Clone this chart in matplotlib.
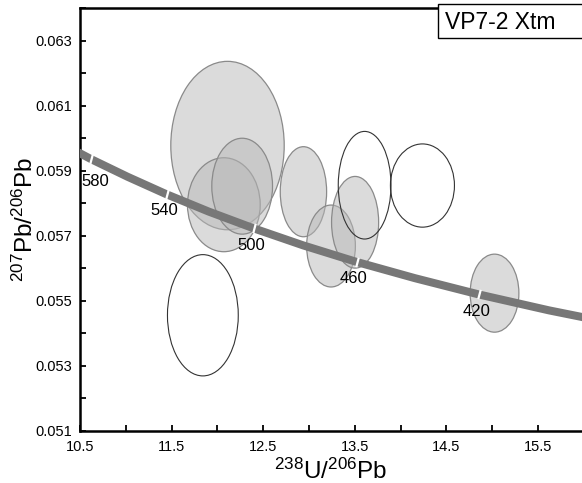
import matplotlib.pyplot as plt
from matplotlib.patches import Ellipse, Rectangle
from matplotlib.ticker import MultipleLocator
import numpy as np

plt.rcParams['font.family'] = ['Liberation Sans', 'DejaVu Sans']
plt.rcParams['mathtext.fontset'] = 'custom'
plt.rcParams['mathtext.rm'] = 'Liberation Sans'

# concordia points (Ma, 238U/206Pb, 207Pb/206Pb)
conc_age = [620, 600, 580, 560, 540, 520, 500, 480, 460, 440, 420, 400, 380]
conc_x = [9.905, 10.252, 10.622, 11.019, 11.445, 11.904, 12.399, 12.936,
          13.520, 14.157, 14.854, 15.621, 16.469]
conc_y = [0.06046, 0.05990, 0.05935, 0.05881, 0.05827, 0.05774, 0.05722,
          0.05670, 0.05619, 0.05569, 0.05519, 0.05470, 0.05422]
label_ages = [580, 540, 500, 460, 420]

# error ellipses: centre, full width, full height, filled or open
ell_x = [12.110, 12.070, 12.270, 12.939, 13.240, 13.503, 15.025, 11.841, 13.607, 14.238]
ell_y = [0.05977, 0.05795, 0.05852, 0.05835, 0.05668, 0.05741, 0.05523, 0.05455, 0.05855, 0.05854]
ell_w = [1.238, 0.794, 0.663, 0.506, 0.532, 0.514, 0.532, 0.773, 0.576, 0.699]
ell_h = [0.00518, 0.00289, 0.00295, 0.00277, 0.00252, 0.00282, 0.00240, 0.00373, 0.00331, 0.00256]
ell_fill = [True, True, True, True, True, True, True, False, False, False]

fig = plt.figure(figsize=(5.82, 4.83), dpi=100)
ax = fig.add_axes([0.1375, 0.1083, 0.8625, 0.8751])

for x, y, w, h, f in zip(ell_x, ell_y, ell_w, ell_h, ell_fill):
    if f:
        e = Ellipse((x, y), w, h, facecolor=(0.72, 0.72, 0.72, 0.5),
                    edgecolor='#8a8a8a', lw=0.9, zorder=2)
    else:
        e = Ellipse((x, y), w, h, facecolor='none', edgecolor='#333333', lw=0.8, zorder=2)
    ax.add_patch(e)

# concordia
ax.plot(conc_x, conc_y, color='#777777', lw=5.8, solid_capstyle='butt', zorder=3)
for a, x, y in zip(conc_age, conc_x, conc_y):
    if a in label_ages:
        ax.plot(x, y, marker=(2, 0, -15), ms=7, mew=1.6, color='white', zorder=4)
        dx, dy = (3, -16) if a == 580 else (-2, -12)
        ax.annotate(str(a), (x, y), xytext=(dx, dy), textcoords='offset points',
                    ha='center', va='center', fontsize=12, zorder=5)

ax.set_xlim(10.5, 15.98)
ax.set_ylim(0.051, 0.064)
ax.set_xticks(np.arange(10.5, 16.0, 1.0))
ax.xaxis.set_minor_locator(MultipleLocator(0.5))
ax.set_yticks(np.arange(0.051, 0.0635, 0.002))
ax.yaxis.set_minor_locator(MultipleLocator(0.001))
ax.yaxis.set_major_formatter(plt.FormatStrFormatter('%.3f'))
ax.xaxis.set_major_formatter(plt.FormatStrFormatter('%.1f'))
ax.tick_params(which='both', direction='in', width=1.3, length=4, labelsize=10.5)
ax.tick_params(axis='x', pad=7)
ax.tick_params(axis='y', pad=6)

for s in ['left', 'bottom', 'top']:
    ax.spines[s].set_linewidth(1.8)
ax.spines['right'].set_visible(False)

ax.set_xlabel(r'$\mathregular{^{238}U/^{206}Pb}$', fontsize=17.5, labelpad=3)
ax.set_ylabel(r'$\mathregular{^{207}Pb/^{206}Pb}$', fontsize=17.5, labelpad=-2)

# sample label box
ax.add_patch(Rectangle((0.713, 0.929), 0.30, 0.08, transform=ax.transAxes,
                       facecolor='white', edgecolor='black', lw=1.0, zorder=6, clip_on=False))
ax.text(0.727, 0.966, 'VP7-2 Xtm', transform=ax.transAxes, fontsize=16.5,
        ha='left', va='center', zorder=7)

fig.savefig('out.png', dpi=100)
